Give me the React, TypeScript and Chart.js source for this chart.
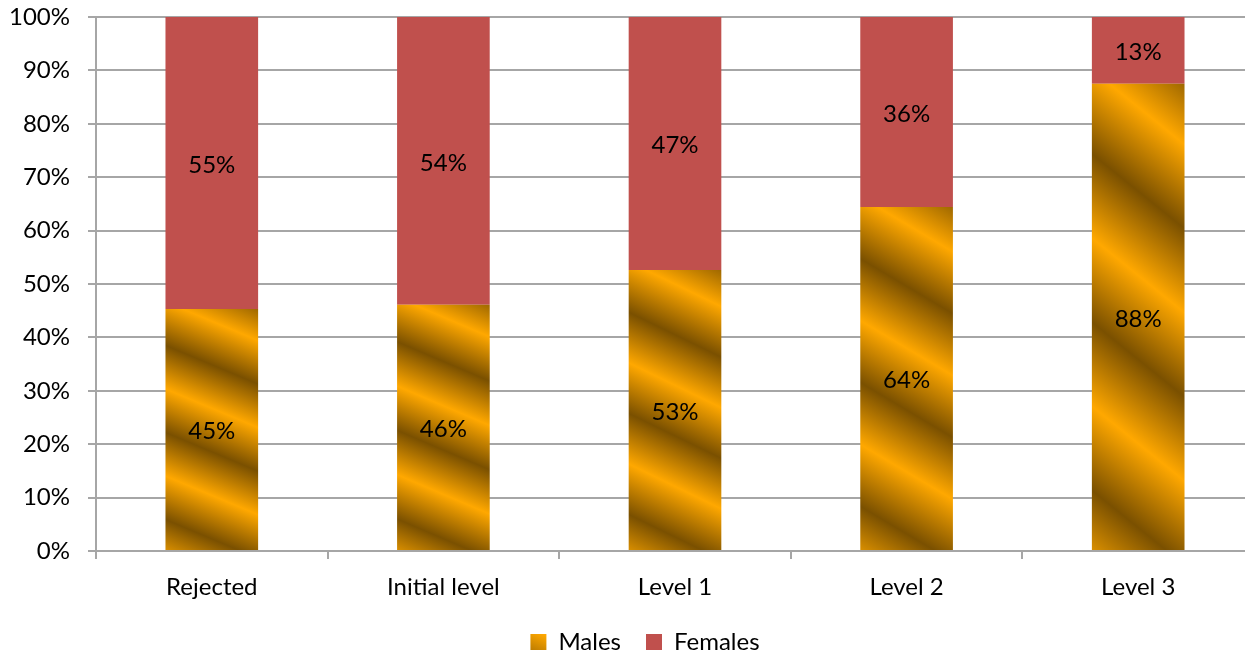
import React, { useEffect, useRef } from "react";
import { Chart, registerables } from "chart.js";

Chart.register(...registerables);

const categories = ["Rejected", "Initial level", "Level 1", "Level 2", "Level 3"];
const males = [45.3, 46.1, 52.6, 64.4, 87.5];
const females = [54.7, 53.9, 47.4, 35.6, 12.5];
const yTickStep = 10;

const FONT = "Lato, 'Liberation Sans', sans-serif";
const FONT_SIZE = 24;
const BRIGHT = "#FFA800";
const DARK = "#7A5000";
const FEMALE = "#C0504D";
const GRID = "#A6A6A6";

let legendPat: CanvasPattern | null = null;
function legendPattern(): CanvasPattern | string {
  if (legendPat) return legendPat;
  const c = document.createElement("canvas");
  const n = 6;
  c.width = n;
  c.height = n;
  const g = c.getContext("2d");
  if (!g) return BRIGHT;
  const img = g.createImageData(n, n);
  for (let y = 0; y < n; y++) {
    for (let x = 0; x < n; x++) {
      const t = ((((x - y) % n) + n) % n) / n;
      const k = 0.5 - 0.5 * Math.cos(t * 2 * Math.PI);
      const i = (y * n + x) * 4;
      img.data[i] = 255 + (122 - 255) * k;
      img.data[i + 1] = 168 + (80 - 168) * k;
      img.data[i + 2] = 0;
      img.data[i + 3] = 255;
    }
  }
  g.putImageData(img, 0, 0);
  const p = g.createPattern(c, "repeat");
  legendPat = p;
  return p || BRIGHT;
}

function maleFill(ctx: any): any {
  const chart = ctx.chart;
  if (ctx.type !== "data" || !chart.chartArea) return legendPattern();
  const xs = chart.scales.x;
  const ys = chart.scales.y;
  const i = ctx.dataIndex;
  const cx = xs.getPixelForValue(i);
  const slot = xs.width / categories.length;
  const w = slot * 0.4;
  const x0 = cx - w / 2;
  const y0 = ys.getPixelForValue(males[i]);
  const y1 = ys.getPixelForValue(0);
  const h = Math.max(1, y1 - y0);
  const S = 0.16;
  const P = 0.36;
  const OFF = -0.03;
  const gx = -S / (w * P);
  const gy = 1 / (h * P);
  const g2 = gx * gx + gy * gy;
  const dx = gx / g2;
  const dy = gy / g2;
  const N = 6;
  const px = x0;
  const py = y0 + h * (OFF - P);
  const grad = chart.ctx.createLinearGradient(px, py, px + dx * N, py + dy * N);
  for (let k = 0; k < N; k++) {
    grad.addColorStop(k / N, BRIGHT);
    grad.addColorStop((k + 0.5) / N, DARK);
  }
  grad.addColorStop(1, BRIGHT);
  return grad;
}

const valueLabels = {
  id: "valueLabels",
  afterDatasetsDraw(chart: any) {
    const c = chart.ctx;
    c.save();
    c.font = `${FONT_SIZE}px ${FONT}`;
    c.fillStyle = "#000";
    c.textAlign = "center";
    c.textBaseline = "middle";
    chart.data.datasets.forEach((ds: any, di: number) => {
      const meta = chart.getDatasetMeta(di);
      meta.data.forEach((el: any, idx: number) => {
        const v = ds.data[idx];
        const y = (el.y + el.base) / 2 + 2;
        c.fillText(`${Math.round(v)}%`, el.x, y);
      });
    });
    c.restore();
  },
};

const legendShift = {
  id: "legendShift",
  afterLayout(chart: any) {
    const lg = chart.legend;
    if (!lg) return;
    lg.left += 18;
    lg.right += 18;
    lg.top += 6;
    lg.bottom += 6;
  },
};

export default function App() {
  const ref = useRef<HTMLCanvasElement | null>(null);
  useEffect(() => {
    document.body.style.overflow = "hidden";
    const canvas = ref.current;
    if (!canvas) return;
    const chart = new Chart(canvas, {
      type: "bar",
      data: {
        labels: categories,
        datasets: [
          { label: "Males", data: males, backgroundColor: maleFill, borderWidth: 0 },
          { label: "Females", data: females, backgroundColor: FEMALE, borderWidth: 0 },
        ],
      },
      options: {
        responsive: false,
        animation: false,
        events: [],
        layout: { padding: { left: 0, right: 0, top: 17, bottom: 0 } },
        datasets: { bar: { barPercentage: 0.4, categoryPercentage: 1 } },
        scales: {
          x: {
            stacked: true,
            afterFit: (s: any) => {
              s.height = 658 - s.chart.legend.height - 551;
            },
            grid: {
              offset: true,
              drawOnChartArea: false,
              drawTicks: true,
              tickLength: 8,
              color: GRID,
              lineWidth: 2,
            },
            border: { display: true, color: GRID, width: 2 },
            ticks: {
              font: { family: FONT, size: FONT_SIZE },
              color: "#000",
              padding: 14,
              maxRotation: 0,
            },
          },
          y: {
            stacked: true,
            min: 0,
            max: 100,
            afterFit: (s: any) => {
              s.width = 96;
              s.paddingTop = 14;
              s.paddingBottom = 14;
            },
            grid: { color: GRID, lineWidth: 2, tickLength: 8, drawTicks: true },
            border: { display: true, color: GRID, width: 2 },
            ticks: {
              stepSize: yTickStep,
              font: { family: FONT, size: FONT_SIZE },
              color: "#000",
              padding: 18,
              callback: (v: any) => `${v}%`,
            },
          },
        },
        plugins: {
          tooltip: { enabled: false },
          legend: {
            position: "bottom",
            labels: {
              boxWidth: 16,
              boxHeight: 16,
              padding: 25,
              color: "#000",
              font: { family: FONT, size: FONT_SIZE },
            },
          },
        },
      },
      plugins: [valueLabels, legendShift],
    });
    return () => chart.destroy();
  }, []);
  return (
    <canvas
      ref={ref}
      width={1254}
      height={658}
      style={{ position: "fixed", left: 0, top: 0, width: "1254px", height: "658px" }}
    />
  );
}
